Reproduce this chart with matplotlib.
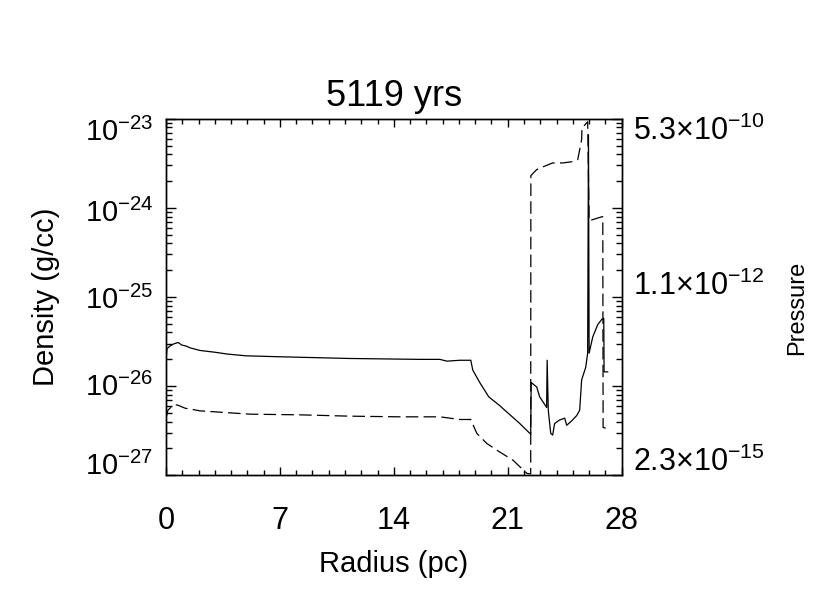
import numpy as np
import matplotlib
matplotlib.use("Agg")
import matplotlib.pyplot as plt
from matplotlib.ticker import FixedLocator, MultipleLocator, LogFormatterMathtext, NullFormatter
from matplotlib.transforms import ScaledTranslation

plt.rcParams['font.family'] = ['Liberation Sans', 'DejaVu Sans']
plt.rcParams['mathtext.fontset'] = 'custom'
plt.rcParams['mathtext.rm'] = 'Liberation Sans'
plt.rcParams['mathtext.it'] = 'Liberation Sans:italic'
plt.rcParams['mathtext.bf'] = 'Liberation Sans:bold'
plt.rcParams['lines.scale_dashes'] = False

# density (solid line), radius in pc, log10(rho) in g/cc
radio_dens = [0, 0.06, 0.25, 0.43, 0.74, 0.98, 1.23, 1.47, 2.09, 3.01, 3.75, 4.91, 6.82,
              11.30, 15.60, 16.83, 17.26, 18.06, 18.73, 18.85, 19.28, 19.83, 20.51, 20.94,
              21.74, 22.41, 22.44, 22.78, 22.96, 23.39, 23.42, 23.49, 23.64, 23.76, 23.88,
              24.19, 24.50, 24.62, 24.93, 25.24, 25.42, 25.54, 25.79, 25.91, 25.96, 26.00,
              26.22, 26.53, 26.78, 26.90, 26.92, 27.14]
log_dens = [-25.71, -25.58, -25.55, -25.53, -25.51, -25.54, -25.55, -25.57, -25.60, -25.62,
            -25.64, -25.66, -25.67, -25.69, -25.70, -25.70, -25.72, -25.71, -25.71, -25.82,
            -25.96, -26.12, -26.22, -26.29, -26.42, -26.54, -25.96, -26.01, -26.12, -26.24,
            -25.71, -26.27, -26.53, -26.55, -26.42, -26.38, -26.36, -26.44, -26.39, -26.33,
            -26.27, -25.93, -25.79, -25.63, -23.18, -25.63, -25.45, -25.31, -25.25, -25.24,
            -25.84, -25.84]

# pressure (dashed line), log10(P)
radio_pres = [0, 0.12, 0.37, 0.68, 1.17, 2.09, 3.93, 5.16, 8.23, 11.30, 14.37, 16.83, 18.05,
              18.73, 19.10, 19.71, 20.51, 21.31, 22.17, 22.41, 22.42, 22.78, 23.15, 23.76,
              24.38, 24.99, 25.30, 25.42, 25.54, 25.56, 25.73, 25.91, 26.00, 26.78, 26.84,
              26.86, 27.02]
log_pres = [-13.78, -13.66, -13.60, -13.58, -13.63, -13.67, -13.70, -13.72, -13.73, -13.75,
            -13.76, -13.76, -13.80, -13.80, -14.01, -14.16, -14.29, -14.41, -14.61, -14.62,
            -10.13, -10.04, -10.00, -9.94, -9.94, -9.92, -9.89, -9.74, -9.59, -9.41, -9.37,
            -9.32, -10.81, -10.75, -10.75, -13.92, -13.93]

dens_lim = (1e-27, 1e-23)
pres_lim = (2.3e-15, 5.3e-10)
pres_labels = ["$2.3{\\times}10^{-15}$", "", "$1.1{\\times}10^{-12}$", "", "$5.3{\\times}10^{-10}$"]

fig = plt.figure(figsize=(8.3, 5.94), dpi=100)
ax = fig.add_axes([0.2, 0.2, 0.549, 0.6])

ax.plot(radio_dens, 10 ** np.array(log_dens), color="black", lw=0.9)
ax.set_yscale("log")
ax.set_ylim(*dens_lim)
ax.set_xlim(0, 28)

mayores = [10.0 ** e for e in range(-27, -22)]
menores = [k * 10.0 ** e for e in range(-27, -23) for k in range(2, 10)]

ax.xaxis.set_major_locator(MultipleLocator(7))
ax.xaxis.set_minor_locator(MultipleLocator(1))
ax.yaxis.set_major_locator(FixedLocator(mayores))
ax.yaxis.set_minor_locator(FixedLocator(menores))
ax.yaxis.set_major_formatter(LogFormatterMathtext())
ax.yaxis.set_minor_formatter(NullFormatter())

ax.tick_params(axis="x", which="both", direction="in", top=True, labelsize=22, pad=22)
ax.tick_params(axis="x", which="major", length=6, width=1)
ax.tick_params(axis="x", which="minor", length=3.5, width=1)
ax.tick_params(axis="y", which="both", direction="in", right=False, labelsize=21, pad=9)
ax.tick_params(axis="y", which="major", length=7.5, width=1)
ax.tick_params(axis="y", which="minor", length=4, width=1)

ax.set_title("5119 yrs", fontsize=26, pad=9)
ax.set_xlabel("Radius (pc)", fontsize=21, labelpad=10)
ax.set_ylabel("Density (g/cc)", fontsize=21, labelpad=18)

# pressure axis on the right, ticks follow the density decades
ax2 = ax.twinx()
ax2.plot(radio_pres, 10 ** np.array(log_pres), color="black", lw=0.9, dashes=(9, 3.8))
ax2.set_yscale("log")
ax2.set_ylim(*pres_lim)

def dens_a_pres(d):
    f = (np.log10(d) - np.log10(dens_lim[0])) / (np.log10(dens_lim[1]) - np.log10(dens_lim[0]))
    return 10 ** (np.log10(pres_lim[0]) + f * (np.log10(pres_lim[1]) - np.log10(pres_lim[0])))

ax2.yaxis.set_major_locator(FixedLocator(dens_a_pres(np.array(mayores))))
ax2.yaxis.set_minor_locator(FixedLocator(dens_a_pres(np.array(menores))))
ax2.set_yticklabels(pres_labels)
ax2.yaxis.set_minor_formatter(NullFormatter())
ax2.tick_params(axis="y", which="both", direction="in", labelsize=22, pad=8)
ax2.tick_params(axis="y", which="major", length=7.5, width=1)
ax2.tick_params(axis="y", which="minor", length=4, width=1)
ax2.set_ylabel("Pressure", fontsize=17)
ax2.yaxis.set_label_coords(1.36, 0.47)

for a in (ax, ax2):
    for s in a.spines.values():
        s.set_linewidth(1)

# IDL keeps the end labels inside the axis range: nudge them (pixels, + = down)
desp_izq = [-12, -2, 0, 3, 11]
desp_der = [-16, 0, -14, 0, 9]
for etiqueta, d in zip(ax.yaxis.get_majorticklabels(), desp_izq):
    etiqueta.set_transform(etiqueta.get_transform() + ScaledTranslation(0, -d / 100, fig.dpi_scale_trans))
for etiqueta, d in zip(ax2.yaxis.get_majorticklabels(), desp_der):
    etiqueta.set_transform(etiqueta.get_transform() + ScaledTranslation(0, -d / 100, fig.dpi_scale_trans))

fig.savefig("out.png", dpi=100)
